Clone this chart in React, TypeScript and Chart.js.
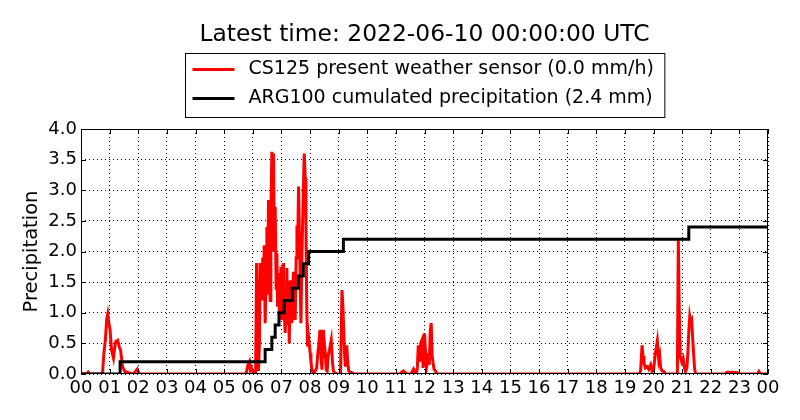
import React, { useEffect, useRef } from 'react';
import Chart from 'chart.js/auto';

// minutes since 00:00 UTC
const sensorMinutes = [
  0, 12, 15, 18, 45, 48, 51, 54, 56, 58, 61, 64, 68, 71, 73, 77, 80, 83, 87, 92, 100, 110, 116, 118, 121, 124,
  346, 350, 353, 355, 357, 361, 366, 368, 370, 372, 374, 375.5, 377, 379, 381, 382.5, 384, 386, 388, 389.6, 391,
  393, 395, 396.5, 398, 400, 402, 403.5, 405, 407, 409, 410.6, 412, 414, 416, 417.5, 419, 421, 423, 424.4, 426,
  428, 430, 431.6, 433, 435, 436.5, 438.5, 440, 442, 444, 445.4, 447, 449, 451, 452.6, 454, 456, 458, 459.5, 461,
  463, 465, 467, 468, 470, 471.5, 473, 474.8, 477, 480.4, 482, 484, 487, 491, 494, 496, 498, 501, 503, 505, 508,
  510, 512, 514, 516, 518, 521, 524.5, 527, 529, 532, 536, 544, 547, 549, 550, 552, 554, 556, 557, 559, 561, 565,
  568, 571,
  668, 672, 676, 680, 684, 692, 695, 697, 700, 703, 705, 707, 710, 712, 715, 717, 720, 722, 724, 726, 728, 730,
  732, 734, 736, 738, 740, 743, 746,
  1170, 1173, 1176, 1178, 1180, 1183, 1187, 1190, 1194, 1197, 1200, 1204, 1208, 1211, 1213, 1215, 1218, 1222,
  1225, 1250, 1252, 1254, 1256, 1259, 1262, 1265, 1267, 1270, 1272, 1274, 1276, 1278, 1280, 1282, 1284, 1286,
  1288, 1350, 1354, 1365, 1376, 1380, 1418, 1421, 1424, 1440,
];

// mm/h
const sensorRate = [
  0, 0, 0.03, 0, 0, 0.34, 0.55, 0.9, 0.98, 0.85, 0.72, 0.39, 0.26, 0.45, 0.53, 0.55, 0.45, 0.39, 0.12, 0.04, 0.02, 0, 0.06, 0.08, 0.02, 0,
  0, 0.15, 0.2, 0.07, 0.1, 0, 0, 1.81, 1.0, 0.05, 0.5, 1.81, 1.5, 1.2, 1.9, 1.48, 2.1, 0.83, 1.6, 2.4, 1.3,
  2.84, 1.7, 1.2, 2.6, 3.63, 2.0, 3.6, 2.3, 2.73, 1.4, 1.97, 1.1, 1.65, 0.9, 1.37, 1.75, 0.88, 1.5, 1.81, 1.0,
  0.67, 1.2, 1.73, 0.8, 1.5, 0.5, 1.53, 1.0, 0.83, 1.4, 1.67, 1.1, 0.88, 1.9, 2.43, 2.0, 3.06, 2.2, 1.5, 0.83,
  1.92, 2.6, 3.3, 3.6, 3.2, 2.51, 1.2, 0.45, 0.6, 0.34, 0.2, 0.07, 0.02, 0.05, 0.1, 0.3, 0.45, 0.72, 0.3, 0.07, 0.72,
  0.5, 0.34, 0.07, 0.05, 0.3, 0.4, 0.55, 0.2, 0.05, 0.02, 0, 0, 1.37, 1.1, 0.88, 0.4, 0.12, 0.4, 0.47, 0.2, 0.05, 0.03,
  0.02, 0,
  0, 0.03, 0.05, 0.02, 0, 0, 0.05, 0.08, 0.03, 0, 0.1, 0.47, 0.2, 0.5, 0.56, 0.1, 0.66, 0.4, 0.1, 0.2, 0.34, 0.15,
  0.7, 0.83, 0.3, 0.18, 0.08, 0.05, 0,
  0, 0.05, 0.47, 0.3, 0.18, 0.1, 0.12, 0.08, 0.15, 0.04, 0.06, 0.34, 0.54, 0.23, 0.3, 0.1, 0.05, 0.04,
  0, 0, 2.21, 1.0, 0.28, 0.2, 0.26, 0.1, 0.04, 0.1, 0.34, 0.7, 0.94, 0.85, 0.88, 0.6, 0.34, 0.1,
  0, 0, 0.03, 0.03, 0.02, 0, 0, 0.04, 0, 0,
];

// gauge: minute where the total changes, and the new total (mm)
const gaugeMinutes = [0, 82, 386, 400, 407, 415, 426, 443, 456, 466, 477, 550, 1274, 1440];
const gaugeTotal = [0, 0.2, 0.4, 0.6, 0.8, 1.0, 1.2, 1.4, 1.6, 1.8, 2.0, 2.2, 2.4, 2.4];

const xTickMinutes = [
  0, 60, 120, 180, 240, 300, 360, 420, 480, 540, 600, 660, 720,
  780, 840, 900, 960, 1020, 1080, 1140, 1200, 1260, 1320, 1380, 1440,
];
const xTickLabels = [
  '00', '01', '02', '03', '04', '05', '06', '07', '08', '09', '10', '11', '12',
  '13', '14', '15', '16', '17', '18', '19', '20', '21', '22', '23', '00',
];
const yTicks = [0, 0.5, 1.0, 1.5, 2.0, 2.5, 3.0, 3.5, 4.0];

const titleText = 'Latest time: 2022-06-10 00:00:00 UTC';
const sensorLabel = 'CS125 present weather sensor (0.0 mm/h)';
const gaugeLabel = 'ARG100 cumulated precipitation (2.4 mm)';

const FONT = '"DejaVu Sans", "Liberation Sans", sans-serif';

// title, boxed legend, frame and inward ticks (matplotlib look)
const decorations = {
  id: 'decorations',
  afterDraw(chart: any) {
    const { ctx, chartArea } = chart;
    const cx = (chartArea.left + chartArea.right) / 2;
    ctx.save();

    ctx.fillStyle = '#000';
    ctx.font = `23.4px ${FONT}`;
    ctx.textAlign = 'center';
    ctx.textBaseline = 'middle';
    ctx.fillText(titleText, cx, 35);

    ctx.font = `19px ${FONT}`;
    const items = chart.data.datasets.map((d: any) => ({ label: d.label, color: d.borderColor }));
    const textW = Math.max(...items.map((i: any) => ctx.measureText(i.label).width));
    const lineLen = 42;
    const padX = 7;
    const gap = 14;
    const boxW = padX + lineLen + gap + textW + padX + 4;
    const boxH = 64;
    const x0 = Math.round(cx - boxW / 2) + 0.5;
    const y0 = 53.5;
    ctx.fillStyle = '#fff';
    ctx.fillRect(x0, y0, boxW, boxH);
    ctx.strokeStyle = '#000';
    ctx.lineWidth = 1;
    ctx.strokeRect(x0, y0, boxW, boxH);
    ctx.textAlign = 'left';
    items.forEach((it: any, i: number) => {
      const y = y0 + 16 + i * 29;
      ctx.strokeStyle = it.color;
      ctx.lineWidth = 3;
      ctx.beginPath();
      ctx.moveTo(x0 + padX, y);
      ctx.lineTo(x0 + padX + lineLen, y);
      ctx.stroke();
      ctx.fillStyle = '#000';
      ctx.fillText(it.label, x0 + padX + lineLen + gap, y);
    });

    const { left, right, top, bottom } = chartArea;
    ctx.strokeStyle = '#000';
    ctx.lineWidth = 1;
    ctx.strokeRect(left + 0.5, top + 0.5, right - left - 1, bottom - top - 1);
    const tl = 5;
    ctx.beginPath();
    chart.scales.x.ticks.forEach((t: any) => {
      const x = Math.round(chart.scales.x.getPixelForValue(t.value)) + 0.5;
      ctx.moveTo(x, bottom);
      ctx.lineTo(x, bottom - tl);
      ctx.moveTo(x, top);
      ctx.lineTo(x, top + tl);
    });
    chart.scales.y.ticks.forEach((t: any) => {
      const y = Math.round(chart.scales.y.getPixelForValue(t.value)) + 0.5;
      ctx.moveTo(left, y);
      ctx.lineTo(left + tl, y);
      ctx.moveTo(right, y);
      ctx.lineTo(right - tl, y);
    });
    ctx.stroke();
    ctx.restore();
  },
};

const PrecipChart: React.FC = () => {
  const chartRef = useRef<HTMLCanvasElement>(null);
  const chartInstance = useRef<Chart | null>(null);

  useEffect(() => {
    document.body.style.margin = '0';
    if (!chartRef.current) return;
    if (chartInstance.current) chartInstance.current.destroy();

    const ctx = chartRef.current.getContext('2d');
    if (!ctx) return;

    chartInstance.current = new Chart(ctx, {
      type: 'line',
      data: {
        datasets: [
          {
            label: sensorLabel,
            data: sensorMinutes.map((m, i) => ({ x: m, y: sensorRate[i] })),
            borderColor: '#ff0000',
            borderWidth: 3,
            pointRadius: 0,
            tension: 0,
            order: 2,
          },
          {
            label: gaugeLabel,
            data: gaugeMinutes.map((m, i) => ({ x: m, y: gaugeTotal[i] })),
            borderColor: '#000000',
            borderWidth: 3,
            pointRadius: 0,
            stepped: true,
            order: 1,
          },
        ],
      },
      options: {
        responsive: false,
        animation: false,
        layout: { padding: { top: 129, right: 32, bottom: 0, left: 0 } },
        plugins: {
          legend: { display: false },
          title: { display: false },
          tooltip: { enabled: false },
        },
        scales: {
          x: {
            type: 'linear',
            min: 0,
            max: 1440,
            afterBuildTicks: (scale: any) => {
              scale.ticks = xTickMinutes.map(v => ({ value: v }));
            },
            afterFit: (scale: any) => {
              scale.height = 46;
            },
            ticks: {
              autoSkip: false,
              maxRotation: 0,
              padding: 4,
              color: '#000',
              font: { family: FONT, size: 18 },
              callback: (_v: any, i: number) => xTickLabels[i],
            },
            grid: {
              color: '#000',
              lineWidth: 1,
              drawTicks: false,
            },
            border: { display: false, dash: [1, 3] },
          },
          y: {
            min: 0,
            max: 4,
            afterBuildTicks: (scale: any) => {
              scale.ticks = yTicks.map(v => ({ value: v }));
            },
            afterFit: (scale: any) => {
              scale.width = 81;
            },
            ticks: {
              padding: 4,
              color: '#000',
              font: { family: FONT, size: 18 },
              callback: (v: any) => Number(v).toFixed(1),
            },
            grid: {
              color: '#000',
              lineWidth: 1,
              drawTicks: false,
            },
            border: { display: false, dash: [1, 3] },
            title: {
              display: true,
              text: 'Precipitation',
              color: '#000',
              font: { family: FONT, size: 19.5 },
              padding: { top: 20, bottom: 0 },
            },
          },
        },
      },
      plugins: [decorations],
    });

    return () => {
      if (chartInstance.current) {
        chartInstance.current.destroy();
        chartInstance.current = null;
      }
    };
  }, []);

  return (
    <div style={{ width: 800, height: 420 }}>
      <canvas ref={chartRef} width={800} height={420} />
    </div>
  );
};

export default function App() {
  return <PrecipChart />;
}
